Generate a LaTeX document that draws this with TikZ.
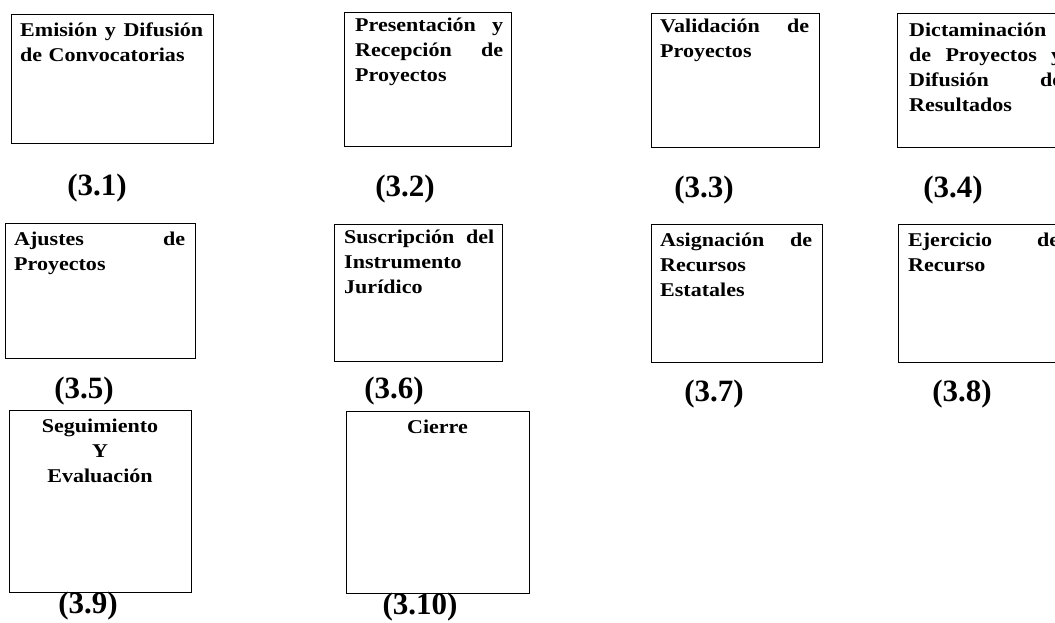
\documentclass[tikz,border=0pt]{standalone}
\usepackage{fontspec}
\setmainfont{Liberation Serif}
\newfontfamily\stretchfont[FakeStretch=1.13]{Liberation Serif}
\tikzset{
  stepbox/.style={draw=black, line width=1.3pt, inner sep=0pt, anchor=north west},
  boxtext/.style={inner sep=0pt, anchor=base west, align=left,
    font=\stretchfont\bfseries\fontsize{19.5}{25}\selectfont},
  ctrtext/.style={inner sep=0pt, anchor=base, align=center,
    font=\stretchfont\bfseries\fontsize{19.5}{25}\selectfont},
  numlabel/.style={inner sep=0pt, anchor=center,
    font=\bfseries\fontsize{31}{34}\selectfont},
}
\begin{document}
\begin{tikzpicture}[x=1pt,y=-1pt]
\clip (0,0) rectangle (1055,623);
\fill[white] (0,0) rectangle (1055,623);
% row 1
\node[stepbox, minimum width=202pt, minimum height=129pt] (b1) at (11,14) {};
\node[boxtext, text width=183pt] (t1) at (20,37) {Emisión\hfill y\hfill Difusión\\de Convocatorias};
\node[stepbox, minimum width=167pt, minimum height=134pt] (b2) at (344,12) {};
\node[boxtext, text width=148pt] (t2) at (355,32) {Presentación\hfill y\\Recepción\hfill de\\Proyectos};
\node[stepbox, minimum width=168pt, minimum height=134pt] (b3) at (651,13) {};
\node[boxtext, text width=149pt] (t3) at (660,33) {Validación\hfill de\\Proyectos};
\node[stepbox, minimum width=176pt, minimum height=134pt] (b4) at (897,13) {};
\node[boxtext, text width=153pt] (t4) at (909,37) {Dictaminación\\de\hfill Proyectos\hfill y\\Difusión\hfill de\\Resultados};
% row 2
\node[stepbox, minimum width=190pt, minimum height=135pt] (b5) at (5,223) {};
\node[boxtext, text width=171pt] (t5) at (14,245) {Ajustes\hfill de\\Proyectos};
\node[stepbox, minimum width=168pt, minimum height=137pt] (b6) at (334,224) {};
\node[boxtext, text width=150pt] (t6) at (344,243) {Suscripción\hfill del\\Instrumento\\Jurídico};
\node[stepbox, minimum width=171pt, minimum height=138pt] (b7) at (651,224) {};
\node[boxtext, text width=152pt] (t7) at (660,246) {Asignación\hfill de\\Recursos\\Estatales};
\node[stepbox, minimum width=177pt, minimum height=138pt] (b8) at (898,224) {};
\node[boxtext, text width=157pt] (t8) at (908,246) {Ejercicio\hfill del\\Recurso};
% row 3
\node[stepbox, minimum width=182pt, minimum height=182pt] (b9) at (9,410) {};
\node[ctrtext, text width=170pt] (t9) at (100,432) {Seguimiento\\Y\\Evaluación};
\node[stepbox, minimum width=183pt, minimum height=182pt] (b10) at (346,411) {};
\node[ctrtext, text width=170pt] (t10) at (437.5,433) {Cierre};
% labels
\node[numlabel] (l1) at (97,188) {(3.1)};
\node[numlabel] (l2) at (405,189) {(3.2)};
\node[numlabel] (l3) at (704,190) {(3.3)};
\node[numlabel] (l4) at (953,190) {(3.4)};
\node[numlabel] (l5) at (84,391) {(3.5)};
\node[numlabel] (l6) at (394,391) {(3.6)};
\node[numlabel] (l7) at (714,394) {(3.7)};
\node[numlabel] (l8) at (962,394) {(3.8)};
\node[numlabel] (l9) at (88,606) {(3.9)};
\node[numlabel] (l10) at (420,607) {(3.10)};
\end{tikzpicture}
\end{document}
